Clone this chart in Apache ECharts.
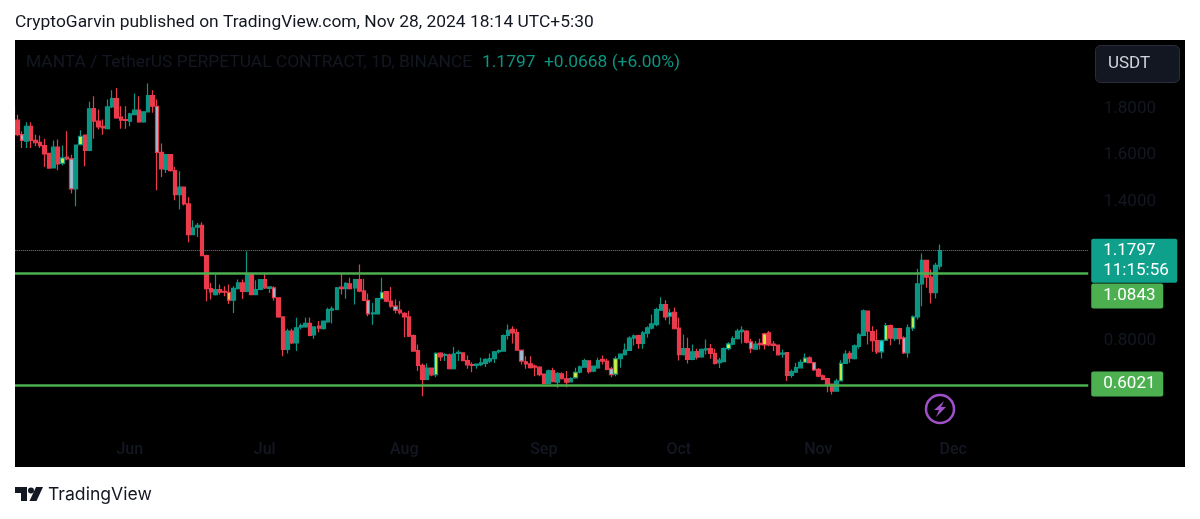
<!DOCTYPE html>
<html>
<head>
<meta charset="utf-8">
<title>MANTA / TetherUS</title>
<script src="https://cdn.jsdelivr.net/npm/echarts@6/dist/echarts.min.js"></script>
<style>
html, body { margin: 0; padding: 0; background: #fff; }
#chart { width: 1200px; height: 519px; }
</style>
</head>
<body>
<div id="chart"></div>
<script>
// daily candles, first one is May 6 and is mostly cut off by the chart edge
var opens = [
  1.801,1.741,1.679,1.651,1.715,1.654,1.646,1.632,1.598,1.536,
  1.625,1.555,1.582,1.575,1.446,1.636,1.677,1.611,1.791,1.737,
  1.715,1.705,1.798,1.834,1.754,1.744,1.737,1.765,1.784,1.734,
  1.777,1.847,1.801,1.603,1.529,1.593,1.524,1.421,1.453,1.381,
  1.249,1.281,1.289,1.159,1.017,0.991,1.013,1.005,1.001,0.967,
  1.017,1.041,1.005,1.081,0.991,1.013,1.056,1.018,1.020,0.977,
  0.895,0.755,0.834,0.783,0.851,0.852,0.867,0.818,0.855,0.845,
  0.874,0.924,0.927,1.023,1.017,1.037,1.020,1.056,1.007,0.966,
  0.908,0.908,0.974,1.004,0.963,0.941,0.924,0.910,0.895,0.815,
  0.750,0.687,0.626,0.675,0.647,0.739,0.729,0.732,0.672,0.738,
  0.740,0.707,0.690,0.686,0.690,0.695,0.705,0.715,0.746,0.748,
  0.815,0.841,0.828,0.752,0.702,0.693,0.683,0.679,0.649,0.609,
  0.664,0.614,0.650,0.629,0.616,0.633,0.657,0.679,0.706,0.662,
  0.676,0.712,0.705,0.672,0.649,0.716,0.733,0.751,0.804,0.815,
  0.781,0.825,0.847,0.862,0.924,0.948,0.898,0.915,0.847,0.733,
  0.759,0.712,0.746,0.723,0.753,0.759,0.738,0.698,0.703,0.759,
  0.778,0.801,0.832,0.834,0.788,0.756,0.781,0.822,0.827,0.778,
  0.774,0.735,0.742,0.643,0.657,0.676,0.700,0.719,0.698,0.669,
  0.642,0.630,0.606,0.576,0.620,0.695,0.738,0.716,0.768,0.815,
  0.920,0.832,0.793,0.745,0.795,0.858,0.802,0.845,0.805,0.740,
  0.847,0.895,1.037,1.138,1.066,0.999,1.113
];
var closes = [
  1.744,1.679,1.654,1.715,1.654,1.644,1.632,1.596,1.535,1.625,
  1.553,1.579,1.575,1.446,1.634,1.672,1.611,1.790,1.737,1.712,
  1.708,1.798,1.834,1.751,1.741,1.740,1.768,1.784,1.734,1.777,
  1.847,1.801,1.603,1.532,1.593,1.524,1.421,1.453,1.381,1.249,
  1.278,1.289,1.159,1.017,1.003,1.013,1.001,1.001,0.967,1.018,
  1.041,1.005,1.081,0.991,1.013,1.056,1.020,1.024,0.978,0.895,
  0.755,0.834,0.783,0.848,0.858,0.867,0.815,0.852,0.847,0.877,
  0.927,0.930,1.020,1.017,1.039,1.017,1.056,1.006,0.966,0.908,
  0.913,0.974,1.001,0.963,0.941,0.924,0.913,0.895,0.812,0.748,
  0.687,0.626,0.675,0.646,0.738,0.723,0.733,0.672,0.736,0.743,
  0.707,0.689,0.687,0.692,0.697,0.712,0.716,0.745,0.750,0.815,
  0.837,0.826,0.752,0.705,0.693,0.677,0.679,0.647,0.609,0.663,
  0.617,0.652,0.629,0.614,0.630,0.657,0.680,0.707,0.660,0.683,
  0.707,0.705,0.669,0.647,0.715,0.735,0.752,0.804,0.814,0.781,
  0.827,0.848,0.865,0.927,0.948,0.895,0.913,0.844,0.733,0.759,
  0.712,0.745,0.722,0.756,0.758,0.738,0.695,0.709,0.759,0.779,
  0.802,0.834,0.838,0.786,0.758,0.778,0.776,0.775,0.775,0.772,
  0.732,0.739,0.643,0.660,0.677,0.700,0.718,0.698,0.667,0.640,
  0.626,0.603,0.576,0.619,0.695,0.735,0.718,0.771,0.818,0.921,
  0.834,0.793,0.745,0.793,0.858,0.804,0.845,0.802,0.740,0.848,
  0.895,1.037,1.138,1.066,0.999,1.117,1.1797
];
var highs = [
  1.823,1.765,1.694,1.732,1.732,1.679,1.675,1.661,1.600,1.654,
  1.658,1.632,1.694,1.593,1.636,1.698,1.679,1.820,1.844,1.787,
  1.744,1.830,1.870,1.880,1.801,1.801,1.773,1.856,1.844,1.780,
  1.899,1.870,1.830,1.641,1.596,1.596,1.540,1.522,1.454,1.411,
  1.311,1.299,1.302,1.162,1.041,1.077,1.034,1.027,1.034,1.027,
  1.056,1.056,1.177,1.084,1.053,1.058,1.081,1.027,1.027,0.980,
  0.898,0.844,0.844,0.891,0.867,0.891,0.892,0.855,0.877,0.880,
  0.934,0.941,1.024,1.082,1.044,1.063,1.059,1.120,1.059,0.996,
  0.956,0.977,1.063,1.006,1.024,0.970,0.963,0.915,0.920,0.819,
  0.776,0.695,0.695,0.676,0.743,0.743,0.740,0.738,0.766,0.752,
  0.743,0.729,0.700,0.695,0.719,0.717,0.738,0.748,0.755,0.819,
  0.862,0.855,0.844,0.755,0.726,0.726,0.690,0.683,0.652,0.669,
  0.676,0.657,0.657,0.662,0.636,0.676,0.686,0.715,0.709,0.686,
  0.719,0.729,0.715,0.680,0.726,0.738,0.781,0.812,0.819,0.818,
  0.834,0.855,0.905,0.934,0.980,0.967,0.930,0.936,0.891,0.819,
  0.805,0.776,0.758,0.759,0.798,0.779,0.758,0.719,0.765,0.786,
  0.812,0.844,0.855,0.838,0.801,0.791,0.801,0.827,0.834,0.791,
  0.776,0.755,0.743,0.669,0.698,0.712,0.738,0.726,0.702,0.675,
  0.647,0.633,0.609,0.629,0.709,0.752,0.748,0.776,0.826,0.927,
  0.923,0.855,0.841,0.798,0.869,0.862,0.848,0.848,0.812,0.862,
  0.901,1.102,1.168,1.139,1.099,1.128,1.206
];
var lows = [
  1.737,1.672,1.622,1.622,1.622,1.629,1.622,1.540,1.532,1.535,
  1.526,1.546,1.569,1.426,1.371,1.632,1.543,1.608,1.661,1.701,
  1.679,1.701,1.794,1.747,1.704,1.704,1.715,1.763,1.730,1.730,
  1.775,1.773,1.440,1.497,1.514,1.520,1.397,1.357,1.374,1.216,
  1.246,1.239,1.156,0.962,0.970,0.987,0.991,0.984,0.951,0.912,
  1.013,0.972,1.001,0.988,0.988,1.010,1.015,0.998,0.964,0.891,
  0.726,0.738,0.779,0.748,0.841,0.848,0.812,0.801,0.829,0.841,
  0.870,0.867,0.924,0.991,0.973,1.013,0.948,1.001,0.963,0.898,
  0.861,0.905,0.970,0.958,0.934,0.910,0.905,0.808,0.809,0.745,
  0.662,0.554,0.623,0.640,0.636,0.705,0.705,0.669,0.669,0.705,
  0.705,0.672,0.657,0.672,0.683,0.680,0.697,0.697,0.738,0.745,
  0.798,0.781,0.749,0.690,0.672,0.673,0.640,0.640,0.606,0.606,
  0.614,0.590,0.626,0.593,0.614,0.629,0.652,0.676,0.652,0.657,
  0.672,0.690,0.666,0.636,0.640,0.676,0.729,0.748,0.772,0.758,
  0.758,0.805,0.841,0.855,0.920,0.881,0.862,0.841,0.708,0.729,
  0.695,0.709,0.712,0.719,0.733,0.715,0.690,0.675,0.700,0.752,
  0.773,0.798,0.781,0.781,0.740,0.755,0.755,0.755,0.769,0.748,
  0.729,0.719,0.619,0.633,0.654,0.673,0.698,0.695,0.662,0.636,
  0.623,0.571,0.561,0.573,0.617,0.692,0.698,0.712,0.758,0.812,
  0.776,0.745,0.736,0.716,0.791,0.773,0.791,0.776,0.736,0.719,
  0.834,0.884,0.941,1.020,0.953,0.974,1.099
];

// days whose candle body is painted in another colour on the original
var paleDays = [2,13,32,58,79,85,113,133,164,178,198];
var limeDays = [11,15,82,94,125,134,159,167,176,184,194,200];
var orangeDays = [48];
var cyanDays = [146,193];

var priceTicks = [1.8, 1.6, 1.4, 0.8];
var monthNames = ['Jun', 'Jul', 'Aug', 'Sep', 'Oct', 'Nov', 'Dec'];
var monthDays = [26, 56, 87, 118, 148, 179, 209];
var lastPrice = 1.1797;
var supportLevels = [1.0843, 0.6021];

var TEAL = '#0b9582';
var RED = '#ea3b4c';
var INK = '#131722';
var GREEN = '#4caf50';

// 261 day slots so the chart leaves the empty space on the right
var days = [];
for (var d = 0; d < 261; d++) {
    days.push(new Date(Date.UTC(2024, 4, 6 + d)).toISOString().slice(0, 10));
}

function tinted(list, i) {
    return list.indexOf(i) >= 0;
}

var candles = opens.map(function (o, i) {
    var item = { value: [o, closes[i], lows[i], highs[i]] };
    var fill = null;
    if (tinted(paleDays, i)) fill = '#8fc6d8';
    if (tinted(limeDays, i)) fill = '#d2f03c';
    if (tinted(orangeDays, i)) fill = '#ffbe3c';
    if (tinted(cyanDays, i)) fill = '#22e0dc';
    if (fill) item.itemStyle = { color: fill, color0: fill };
    return item;
});

var chart = echarts.init(document.getElementById('chart'));

chart.setOption({
    animation: false,
    backgroundColor: '#fff',
    textStyle: { fontFamily: 'Roboto' },
    grid: {
        show: true, backgroundColor: '#000', borderWidth: 0,
        left: 10.5, right: 15, top: 40, bottom: 52
    },
    xAxis: {
        type: 'category',
        data: days,
        axisLine: { show: false },
        axisTick: { show: false },
        axisLabel: {
            inside: true,
            margin: 9,
            color: INK,
            fontSize: 16,
            fontWeight: 500,
            interval: function (i) { return monthDays.indexOf(i) >= 0; },
            formatter: function (v) {
                return monthNames[monthDays.indexOf(days.indexOf(v))];
            }
        },
        splitLine: { show: false }
    },
    yAxis: {
        type: 'value',
        position: 'right',
        min: 0.2495,
        max: 2.086,
        axisLine: { show: false },
        axisTick: { show: false },
        splitLine: { show: false },
        axisLabel: {
            inside: true,
            margin: 29,
            customValues: priceTicks,
            formatter: function (v) { return '{tick|' + v.toFixed(4) + '}'; },
            rich: {
                tick: { color: INK, fontSize: 17, padding: [4, 0, 0, 0] }
            }
        }
    },
    series: [{
        type: 'candlestick',
        barWidth: 4,
        data: candles,
        itemStyle: {
            color: TEAL, color0: RED,
            borderColor: TEAL, borderColor0: RED,
            borderWidth: 1.2
        },
        markLine: {
            silent: true,
            symbol: 'none',
            animation: false,
            data: [
                [
                    {
                        coord: [0, lastPrice],
                        lineStyle: { color: '#787b86', type: 'dotted', width: 1 },
                        label: {
                            show: true, position: 'end', distance: 3,
                            formatter: lastPrice.toFixed(4) + '\n11:15:56',
                            backgroundColor: '#0fa08c', color: '#fff',
                            fontSize: 17, lineHeight: 20.5, align: 'left',
                            width: 74, padding: [3, 0, 0, 12], borderRadius: 2,
                            offset: [0, 10]
                        }
                    },
                    { coord: [239, lastPrice] }
                ],
                [
                    {
                        coord: [0, supportLevels[0]],
                        lineStyle: { color: GREEN, type: 'solid', width: 2.5 },
                        label: {
                            show: true, position: 'end', distance: 3,
                            formatter: supportLevels[0].toFixed(4),
                            backgroundColor: GREEN, color: '#fff',
                            fontSize: 17, lineHeight: 23, align: 'left',
                            width: 60, padding: [2, 0, 0, 12], borderRadius: 2,
                            offset: [0, 23]
                        }
                    },
                    { coord: [239, supportLevels[0]] }
                ],
                [
                    {
                        coord: [0, supportLevels[1]],
                        lineStyle: { color: GREEN, type: 'solid', width: 2.5 },
                        label: {
                            show: true, position: 'end', distance: 3,
                            formatter: supportLevels[1].toFixed(4),
                            backgroundColor: GREEN, color: '#fff',
                            fontSize: 17, lineHeight: 23, align: 'left',
                            width: 60, padding: [2, 0, 0, 12], borderRadius: 2,
                            offset: [0, -1]
                        }
                    },
                    { coord: [239, supportLevels[1]] }
                ]
            ]
        }
    }],
    graphic: [
        // hides the part of the first candle that falls outside the black panel
        { type: 'rect', z: 100, shape: { x: 0, y: 39, width: 15, height: 429 }, style: { fill: '#fff' } },
        { type: 'text', z: 100, x: 15, y: 14, style: { text: 'CryptoGarvin published on TradingView.com, Nov 28, 2024 18:14 UTC+5:30', font: '17.4px Roboto', fill: INK } },
        { type: 'text', z: 100, x: 26, y: 54, style: { text: 'MANTA / TetherUS PERPETUAL CONTRACT, 1D, BINANCE', font: '17.4px Roboto', fill: INK } },
        { type: 'text', z: 100, x: 482, y: 54, style: { text: '1.1797', font: '17.4px Roboto', fill: TEAL } },
        { type: 'text', z: 100, x: 544, y: 54, style: { text: '+0.0668 (+6.00%)', font: '17.4px Roboto', fill: TEAL } },
        { type: 'rect', z: 100, shape: { x: 1095.5, y: 45.5, width: 84, height: 37, r: 5 }, style: { fill: '#131722', stroke: '#2a2e39', lineWidth: 1 } },
        { type: 'text', z: 101, x: 1108, y: 55, style: { text: 'USDT', font: '17px Roboto', fill: '#d1d4dc' } },
        // lightning badge
        { type: 'circle', z: 100, shape: { cx: 940, cy: 409, r: 14 }, style: { fill: 'none', stroke: '#a050c8', lineWidth: 2.5 } },
        { type: 'polygon', z: 100, shape: { points: [[944, 401], [934, 410], [939, 410], [936, 417], [946, 407], [941, 407]] }, style: { fill: '#a050c8' } },
        // TradingView logo
        { type: 'polygon', z: 100, shape: { points: [[15, 487], [27, 487], [27, 501], [21, 501], [21, 493], [15, 493]] }, style: { fill: INK } },
        { type: 'circle', z: 100, shape: { cx: 31, cy: 490.5, r: 3 }, style: { fill: INK } },
        { type: 'polygon', z: 100, shape: { points: [[36, 487], [43, 487], [36.5, 501], [29.5, 501]] }, style: { fill: INK } },
        { type: 'text', z: 100, x: 48, y: 486, style: { text: 'TradingView', font: '17.6px Inter', fill: INK } }
    ]
});
</script>
</body>
</html>
